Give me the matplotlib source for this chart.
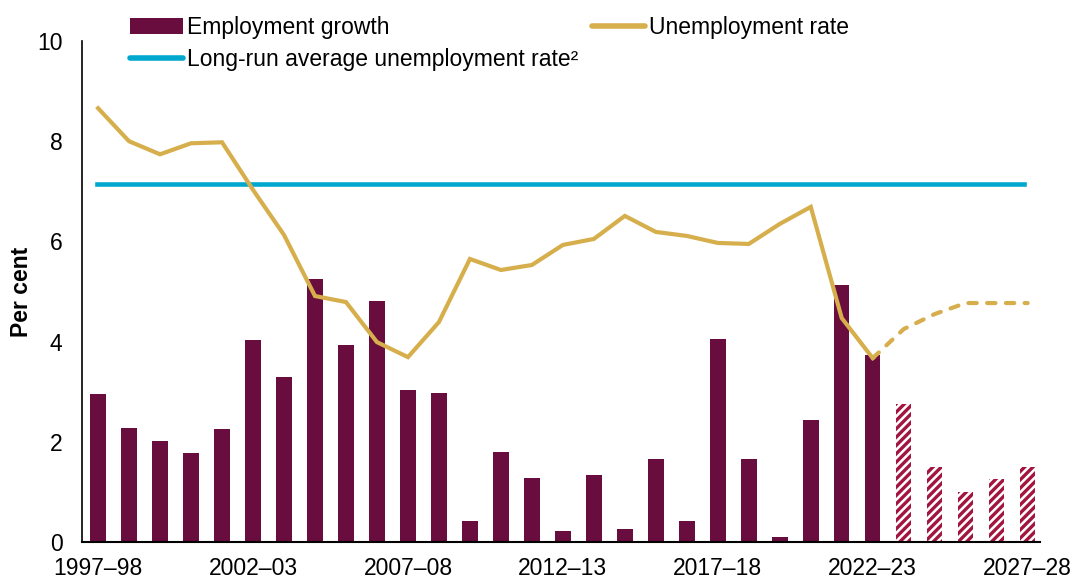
import matplotlib
matplotlib.use("Agg")
import matplotlib.pyplot as plt
import numpy as np
from matplotlib.patches import Patch
from matplotlib.lines import Line2D

years = ["1997–98","1998–99","1999–00","2000–01","2001–02","2002–03","2003–04","2004–05",
         "2005–06","2006–07","2007–08","2008–09","2009–10","2010–11","2011–12","2012–13",
         "2013–14","2014–15","2015–16","2016–17","2017–18","2018–19","2019–20","2020–21",
         "2021–22","2022–23","2023–24","2024–25","2025–26","2026–27","2027–28"]
emp_growth = [2.95, 2.28, 2.02, 1.78, 2.26, 4.03, 3.29, 5.25, 3.93, 4.81, 3.03, 2.97,
              0.42, 1.80, 1.28, 0.22, 1.33, 0.25, 1.65, 0.41, 4.05, 1.66, 0.09, 2.44,
              5.13, 3.73, 2.75, 1.50, 1.00, 1.25, 1.50]
unemp = [8.66, 8.00, 7.74, 7.96, 7.98, 7.03, 6.13, 4.91, 4.79, 3.99, 3.69, 4.39,
         5.65, 5.43, 5.53, 5.93, 6.05, 6.51, 6.19, 6.11, 5.97, 5.95, 6.35, 6.69,
         4.47, 3.67, 4.25, 4.55, 4.77, 4.77, 4.77]
long_run_avg = 7.15
n_actual = 26  # through 2022–23
tick_labels = ["1997–98", "2002–03", "2007–08", "2012–13", "2017–18", "2022–23", "2027–28"]

plt.rcParams['font.family'] = ['Liberation Sans', 'DejaVu Sans']
plt.rcParams['hatch.linewidth'] = 2.4

maroon = "#690C3E"
hatch_col = "#A2153F"
gold = "#D6AF4C"
cyan = "#00A8CF"
fs = 16.5

fig = plt.figure(figsize=(10.73, 5.79), dpi=100)
ax = fig.add_axes([0.0764, 0.064, 0.8926, 0.865])

x = np.arange(len(years))
ax.bar(x[:n_actual], emp_growth[:n_actual], width=0.5, color=maroon, zorder=2)
ax.bar(x[n_actual:], emp_growth[n_actual:], width=0.5, facecolor="white",
       edgecolor=hatch_col, hatch="////", linewidth=0, zorder=2)

ax.axhline(long_run_avg, xmin=0.016, xmax=0.984, color=cyan, lw=3.3, zorder=3)
ax.plot(x[:n_actual], unemp[:n_actual], color=gold, lw=3, zorder=4, solid_joinstyle='miter')
ax.plot(x[n_actual-1:], unemp[n_actual-1:], color=gold, lw=3, ls=(0, (2.0, 2.5)),
        dash_capstyle='round', zorder=4)

ax.set_xlim(-0.52, 30.39)
ax.set_ylim(0, 10)
ax.set_yticks([0, 2, 4, 6, 8, 10])
ax.set_xticks([years.index(t) for t in tick_labels])
ax.set_xticklabels(tick_labels)
ax.tick_params(axis='both', length=0, labelsize=fs)
ax.tick_params(axis='x', pad=11)
ax.tick_params(axis='y', pad=14)
for s in ['top', 'right']:
    ax.spines[s].set_visible(False)
ax.spines['left'].set_linewidth(1.2)
ax.spines['bottom'].set_linewidth(1.5)
ax.set_ylabel("Per cent", fontsize=fs, fontweight='bold', labelpad=3)

handles = [Patch(facecolor=maroon, edgecolor='none'),
           Line2D([], [], color=cyan, lw=4, solid_capstyle='round'),
           Line2D([], [], color=gold, lw=4, solid_capstyle='round')]
labels = ["Employment growth", "Long-run average unemployment rate²", "Unemployment rate"]
leg = fig.legend(handles, labels, ncol=2, loc='upper left', bbox_to_anchor=(0.1125, 0.988),
                 frameon=False, fontsize=fs, handlelength=2.3, handletextpad=0.2,
                 columnspacing=0.6, labelspacing=0.4, borderaxespad=0)

fig.savefig("out.png", dpi=100)
